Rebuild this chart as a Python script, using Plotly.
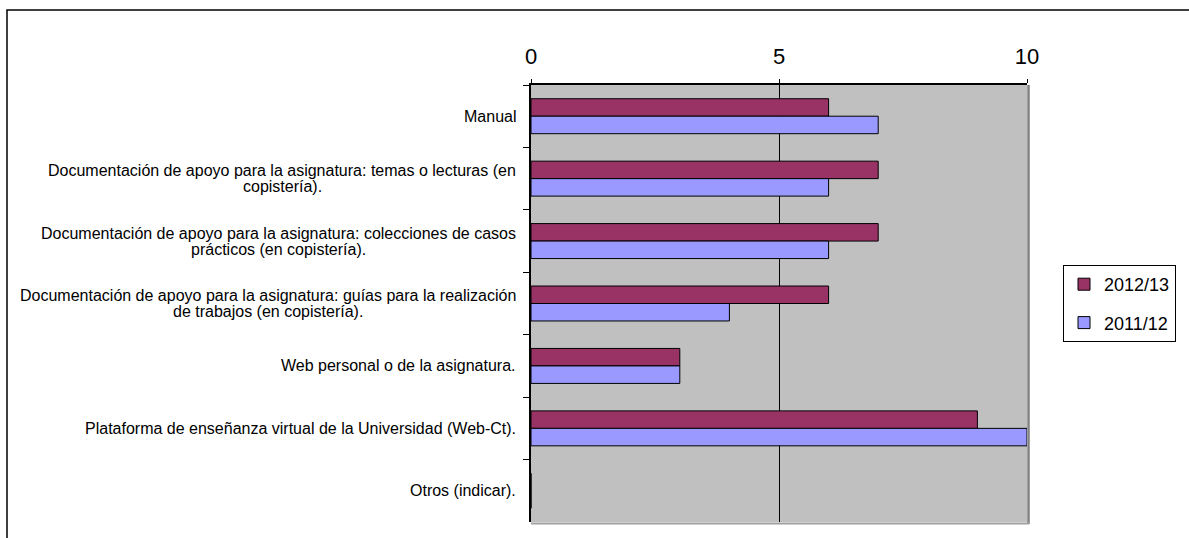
import plotly.graph_objects as go

categories = [
    "Manual",
    "Documentación de apoyo para la asignatura: temas o lecturas (en<br>copistería).",
    "Documentación de apoyo para la asignatura: colecciones de casos<br>prácticos (en copistería).",
    "Documentación de apoyo para la asignatura: guías para la realización<br>de trabajos (en copistería).",
    "Web personal o de la asignatura.",
    "Plataforma de enseñanza virtual de la Universidad (Web-Ct).",
    "Otros (indicar).",
]
cat_ids = [f"c{i}" for i in range(len(categories))]
series_names = ["2012/13", "2011/12"]
values_2012_13 = [6, 7, 7, 6, 3, 9, 0]
values_2011_12 = [7, 6, 6, 4, 3, 10, 0]
x_ticks = [0, 5, 10]
colors = ["#993366", "#9999FF"]

W, H = 1189, 538
L, R, T, B = 531, 1027, 85, 522
pw, ph = R - L, B - T

fig = go.Figure()
for name, vals, col in zip(series_names, [values_2012_13, values_2011_12], colors):
    fig.add_trace(go.Bar(
        y=cat_ids, x=vals, name=name, orientation="h",
        marker=dict(color=col, line=dict(color="black", width=1)),
        legendgroup=name,
    ))

# Arial / Liberation Sans advance widths (per 1000 em) used to centre wrapped labels
_AW = {" ": 278, "(": 333, ")": 333, "-": 333, ".": 278, ":": 278, "/": 278,
       "a": 556, "b": 556, "c": 500, "d": 556, "e": 556, "f": 278, "g": 556, "h": 556,
       "i": 222, "j": 222, "k": 500, "l": 222, "m": 833, "n": 556, "o": 556, "p": 556,
       "q": 556, "r": 333, "s": 500, "t": 278, "u": 556, "v": 500, "w": 722, "x": 500,
       "y": 500, "z": 500, "á": 556, "é": 556, "í": 222, "ó": 556, "ú": 556, "ñ": 556,
       "D": 722, "M": 833, "W": 944, "P": 667, "U": 722, "C": 722, "O": 778}


def text_width(s, size):
    return sum(_AW.get(ch, 556) for ch in s) * size / 1000.0


font = "Liberation Sans, Arial, sans-serif"
LABEL_SIZE = 16
LINE_STEP = 16
RIGHT_GAP = 15
annotations = []
for cid, label in zip(cat_ids, categories):
    lines = label.split("<br>")
    n = len(lines)
    block_w = max(text_width(s, LABEL_SIZE) for s in lines)
    for k, line in enumerate(lines):
        annotations.append(dict(
            x=-RIGHT_GAP / pw, xref="paper", y=cid, yref="y", text=line,
            showarrow=False, xanchor="center", yanchor="middle", align="center",
            xshift=-block_w / 2,
            yshift=((n - 1) / 2 - k) * LINE_STEP,
            font=dict(family=font, size=LABEL_SIZE, color="black"),
        ))

shapes = [
    dict(type="rect", xref="paper", yref="paper",
         x0=(7 - L) / pw, x1=(W + 20 - L) / pw,
         y0=-(H + 20 - B) / ph, y1=1 + (T - 10) / ph,
         line=dict(color="black", width=1.5), layer="below"),
    dict(type="line", xref="paper", yref="paper", x0=1 + 1.5 / pw, x1=1 + 1.5 / pw,
         y0=-2 / ph, y1=1, line=dict(color="#808080", width=2.5), layer="above"),
    dict(type="line", xref="paper", yref="paper", x0=0, x1=1 + 2 / pw,
         y0=-1.5 / ph, y1=-1.5 / ph, line=dict(color="#A0A0A0", width=2), layer="above"),
]

fig.update_layout(
    width=W, height=H,
    margin=dict(l=L, r=W - R, t=T, b=H - B, pad=0),
    paper_bgcolor="white", plot_bgcolor="#C0C0C0",
    barmode="group", bargap=0.44, bargroupgap=0,
    font=dict(family=font, color="black"),
    xaxis=dict(side="top", range=[0, 10], tickvals=x_ticks,
               showgrid=True, gridcolor="black", gridwidth=1,
               showline=True, linecolor="black", linewidth=2,
               ticks="outside", ticklen=4, tickcolor="black", tickwidth=1,
               ticklabelstandoff=6,
               tickfont=dict(size=22, family=font), zeroline=False, fixedrange=True),
    yaxis=dict(type="category", categoryorder="array", categoryarray=cat_ids,
               autorange="reversed", showticklabels=False,
               showline=True, linecolor="black", linewidth=2,
               ticks="outside", ticklen=6, tickcolor="black", tickwidth=1,
               tickson="boundaries", showgrid=False, fixedrange=True),
    legend=dict(x=(1063 - L) / pw, xanchor="left", y=0.5, yanchor="middle",
                bordercolor="black", borderwidth=1, bgcolor="white",
                font=dict(size=18, family=font), traceorder="grouped",
                tracegroupgap=12, itemwidth=30, entrywidth=118,
                entrywidthmode="pixels"),
    annotations=annotations,
    shapes=shapes,
)

fig.write_html("out.html", post_script="document.body.style.margin='0';",
               config={"displayModeBar": False})
